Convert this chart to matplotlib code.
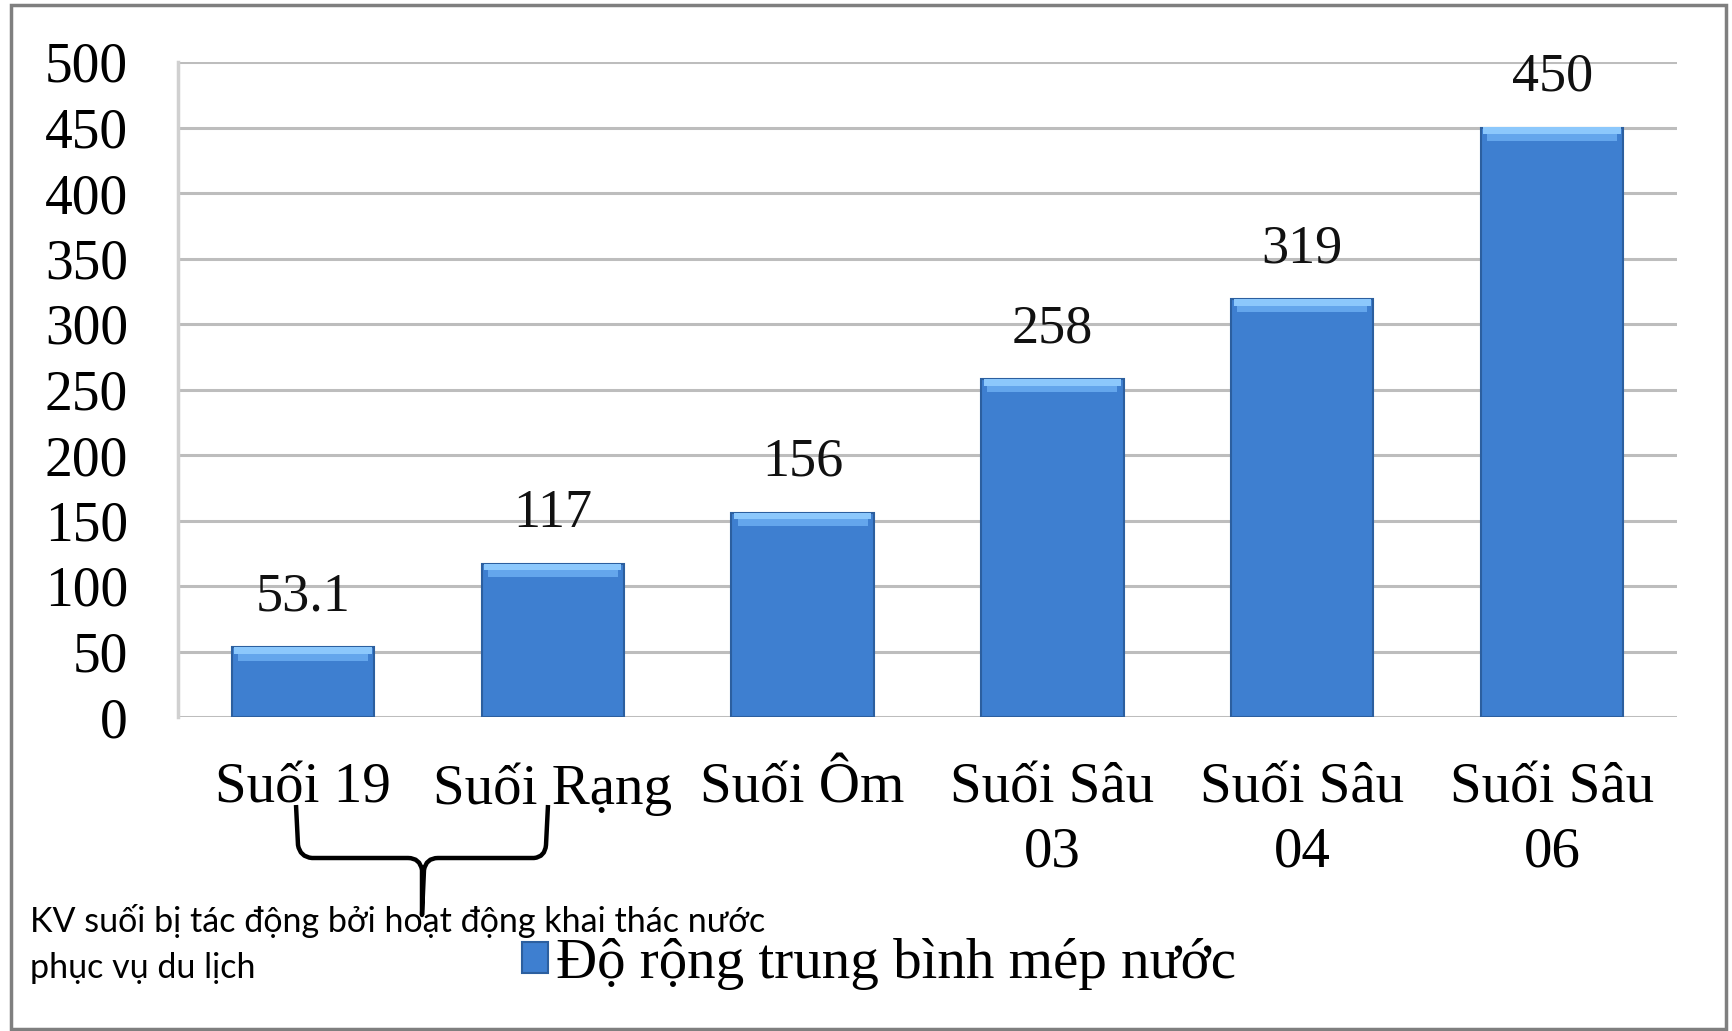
import matplotlib
matplotlib.use("Agg")
import matplotlib.pyplot as plt
from matplotlib.path import Path
from matplotlib.patches import PathPatch, Rectangle
from matplotlib import transforms

# du lieu
categories = ["Suối 19", "Suối Rạng", "Suối Ôm", "Suối Sâu\n03", "Suối Sâu\n04", "Suối Sâu\n06"]
values = [53.1, 117, 156, 258, 319, 450]
value_labels = ["53.1", "117", "156", "258", "319", "450"]
yticks = [0, 50, 100, 150, 200, 250, 300, 350, 400, 450, 500]
legend_label = "Độ rộng trung bình mép nước"
note = "KV suối bị tác động bởi hoạt động khai thác nước\nphục vụ du lịch"

W, H = 1733, 1031
serif = ["Liberation Serif", "DejaVu Serif"]

fig = plt.figure(figsize=(W / 100, H / 100), dpi=100)
ax = fig.add_axes([178 / W, 1 - 717 / H, 1499 / W, 655 / H])

x = list(range(len(categories)))
bars = ax.bar(x, values, width=0.57, color="#3E7FD0", edgecolor="#2C5F9F",
              linewidth=1.5, zorder=3, label=legend_label)
# vien sang phia tren cot
ax.bar(x, [10] * len(values), bottom=[v - 10 for v in values], width=0.52,
       color="#64A6EC", linewidth=0, zorder=4)
ax.bar(x, [5] * len(values), bottom=[v - 5 for v in values], width=0.55,
       color="#8CC8FC", linewidth=0, zorder=5)

for xi, v, lab in zip(x, values, value_labels):
    ax.annotate(lab, (xi, v), xytext=(0, 36), textcoords="offset points",
                ha="center", va="center", fontsize=39, family=serif, color="#111111")

ax.set_ylim(0, 500)
ax.set_xlim(-0.5, len(categories) - 0.5)
ax.set_yticks(yticks)
ax.set_yticklabels([str(t) for t in yticks], family=serif, fontsize=40)
ax.set_xticks(x)
ax.set_xticklabels(categories, family=serif, fontsize=41, linespacing=1.3, va="top")
ax.tick_params(axis="y", length=0, pad=36)
ax.tick_params(axis="x", length=0, pad=33)
ax.grid(axis="y", color="#BDBDBD", linewidth=2.2, zorder=0)
ax.set_axisbelow(True)
for s in ["top", "right", "bottom"]:
    ax.spines[s].set_visible(False)
ax.spines["left"].set_color("#D0D0D0")
ax.spines["left"].set_linewidth(2.5)

leg = fig.legend(handles=[bars], labels=[legend_label], loc="center left",
                 bbox_to_anchor=(522 / W, 1 - 964 / H), frameon=False,
                 prop={"family": serif, "size": 41}, handlelength=0.45,
                 handleheight=0.45, handletextpad=0.15, borderpad=0, borderaxespad=0)

# khung ngoai
pix = transforms.Affine2D().scale(1 / W, -1 / H).translate(0, 1) + fig.transFigure
fig.patches.append(Rectangle((11, 5), 1715, 1024, fill=False, edgecolor="#7F7F7F",
                             linewidth=2.5, transform=pix))

# dau ngoac nhon
verts = [(296, 805), (298, 845), (300, 857), (312, 858), (408, 858),
         (420, 858), (422, 870), (422, 915), (424, 870), (426, 858),
         (438, 858), (534, 858), (545, 857), (546, 845), (548, 805)]
codes = [Path.MOVETO, Path.LINETO, Path.CURVE3, Path.CURVE3, Path.LINETO,
         Path.CURVE3, Path.CURVE3, Path.LINETO, Path.LINETO, Path.CURVE3,
         Path.CURVE3, Path.LINETO, Path.CURVE3, Path.CURVE3, Path.LINETO]
fig.patches.append(PathPatch(Path(verts, codes), fill=False, edgecolor="black",
                             linewidth=3.2, transform=pix, joinstyle="round"))

fig.text(30 / W, 1 - 944 / H, note, family=["Lato", "Noto Sans", "DejaVu Sans"],
         fontsize=24.5, ha="left", va="center", linespacing=1.5, color="black")

fig.savefig("out.png", dpi=100)
